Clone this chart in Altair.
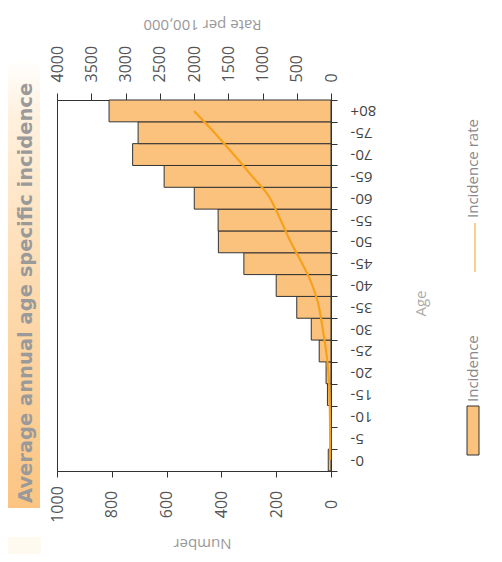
import altair as alt
import pandas as pd

ages = ["0-", "5-", "10-", "15-", "20-", "25-", "30-", "35-", "40-", "45-",
        "50-", "55-", "60-", "65-", "70-", "75-", "80+"]
incidence = [10, 3, 4, 13, 18, 43, 72, 125, 200, 318, 411, 412, 499, 609, 724, 704, 810]
rate = [15, 12, 15, 22, 38, 72, 120, 175, 272, 420, 590, 735, 890, 1150, 1420, 1700, 2000]
number_ticks = [0, 200, 400, 600, 800, 1000]
rate_ticks = [0, 500, 1000, 1500, 2000, 2500, 3000, 3500, 4000]

FONT = "Open Sans"
BAR = "#fac27c"
LINE = "#f7a01c"

df = pd.DataFrame({"age": ages, "n": incidence, "rate": rate, "idx": list(range(len(ages)))})

yenc = alt.Y("age:N", sort=ages[::-1],
             scale=alt.Scale(paddingInner=0, paddingOuter=0),
             axis=alt.Axis(orient="right", title="Age", tickBand="extent", tickSize=6,
                           labelAngle=180, labelAlign="right", labelBaseline="middle",
                           labelPadding=13, labelFontSize=15, labelColor="#444",
                           titleAngle=270, titleX=89, titleY=203, titleAlign="center",
                           titleBaseline="middle", titleColor="#aaa", titleFontSize=15,
                           titleFontWeight="normal"))

bars = alt.Chart(df).mark_bar(color=BAR, stroke="#333", strokeWidth=1).encode(
    y=yenc,
    x=alt.X("n:Q", scale=alt.Scale(domain=[0, 1000], reverse=True, nice=False),
            axis=alt.Axis(orient="bottom", title="Number", values=number_ticks, format="d",
                          tickSize=6,
                          labelAngle=270, labelAlign="center", labelBaseline="middle",
                          labelPadding=27, labelFlush=False, labelOverlap=False,
                          labelFontSize=16, labelColor="#555",
                          titleAngle=180, titleX=145, titleY=72, titleAlign="center",
                          titleBaseline="middle", titleColor="#999", titleFontSize=15,
                          titleFontWeight="normal")),
)

line = alt.Chart(df).mark_line(color=LINE, strokeWidth=2.2, interpolate="monotone").encode(
    y=alt.Y("age:N", sort=ages[::-1]),
    x=alt.X("rate:Q", scale=alt.Scale(domain=[0, 4000], reverse=True, nice=False),
            axis=alt.Axis(orient="top", title="Rate per 100,000", values=rate_ticks, format="d",
                          tickSize=7,
                          labelAngle=270, labelAlign="left", labelBaseline="middle",
                          labelPadding=11, labelFlush=False, labelOverlap=False,
                          labelFontSize=16, labelColor="#555",
                          titleAngle=180, titleX=145, titleY=-76, titleAlign="center",
                          titleBaseline="middle", titleColor="#999", titleFontSize=15,
                          titleFontWeight="normal")),
    order=alt.Order("idx:Q"),
)

one = pd.DataFrame({"k": [0]})

title_bg = alt.Chart(one).mark_rect(
    color=alt.Gradient(gradient="linear", x1=0, x2=0, y1=0, y2=1,
                       stops=[alt.GradientStop(color="#ffffff", offset=0),
                              alt.GradientStop(color="#fff1df", offset=0.12),
                              alt.GradientStop(color="#fddbb0", offset=0.5),
                              alt.GradientStop(color="#fbc482", offset=1)])
).encode(x=alt.value(-51), x2=alt.value(-17), y=alt.value(-40), y2=alt.value(408))

cream = alt.Chart(one).mark_rect(color="#fffaf0").encode(
    x=alt.value(-51), x2=alt.value(-16), y=alt.value(437), y2=alt.value(460))

title_txt = alt.Chart(one).mark_text(
    angle=270, align="left", baseline="middle", font="DejaVu Sans", fontSize=19.5,
    fontWeight="bold", color="#9a9a9a"
).encode(x=alt.value(-31), y=alt.value(403), text=alt.value("Average annual age specific incidence"))

leg_box = alt.Chart(one).mark_rect(color=BAR, stroke="#333", strokeWidth=1).encode(
    x=alt.value(410), x2=alt.value(422), y=alt.value(306), y2=alt.value(355))

leg_line = alt.Chart(one).mark_rule(color="#fbbf6c", strokeWidth=1.5).encode(
    x=alt.value(418), y=alt.value(123), y2=alt.value(172))

leg_t1 = alt.Chart(one).mark_text(
    angle=270, align="left", baseline="middle", font=FONT, fontSize=15, color="#888"
).encode(x=alt.value(416), y=alt.value(302), text=alt.value("Incidence"))

leg_t2 = alt.Chart(one).mark_text(
    angle=270, align="left", baseline="middle", font=FONT, fontSize=15, color="#888"
).encode(x=alt.value(416), y=alt.value(118), text=alt.value("Incidence rate"))

main = alt.layer(bars, line).resolve_scale(x="independent").resolve_axis(x="independent")

chart = alt.layer(title_bg, cream, title_txt, main, leg_box, leg_line, leg_t1, leg_t2).properties(
    width=274, height=371,
    autosize=alt.AutoSizeParams(type="none"),
    padding={"left": 49, "top": 92, "right": 163, "bottom": 83},
).configure_view(stroke="#333", strokeWidth=1).configure_axis(
    labelFont=FONT, titleFont=FONT, domainColor="#333", tickColor="#333", grid=False
)

chart.save("out.html", embed_options={"renderer": "svg", "actions": False})
